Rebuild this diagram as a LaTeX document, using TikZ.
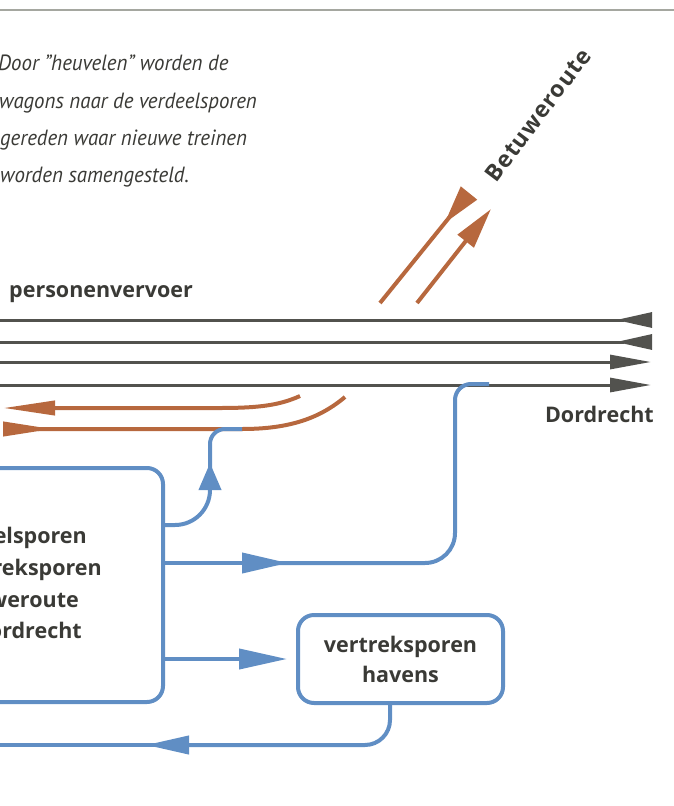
\documentclass[tikz,border=0pt]{standalone}
\usepackage{fontspec}
\setmainfont{PT Sans}
\setsansfont{Open Sans}
\newfontfamily\spacedfont[LetterSpace=4]{Open Sans}
\usetikzlibrary{arrows.meta, positioning, calc}

\definecolor{trackgray}{RGB}{82,82,78}
\definecolor{rulegray}{RGB}{165,167,160}
\definecolor{routeblue}{RGB}{96,142,196}
\definecolor{goodsbrown}{RGB}{183,104,62}
\definecolor{textgray}{RGB}{58,58,54}

\begin{document}
\begin{tikzpicture}[x=1pt, y=-1pt,
    track/.style={line width=3pt, trackgray},
    goods/.style={line width=4pt, goodsbrown},
    flow/.style={line width=4pt, routeblue},
    yard_box/.style={rectangle, draw=routeblue, line width=4pt, rounded corners=16pt, align=center},
    lbl/.style={font=\fontsize{21.5}{30}\selectfont\sffamily\bfseries, text=textgray, inner sep=0pt},
    note/.style={font=\fontsize{22}{37}\selectfont\itshape, xscale=0.95, text=textgray, inner sep=0pt, anchor=base west},
    ]
    \useasboundingbox (0,0) rectangle (674,806);
    \clip (0,0) rectangle (674,806);
    \draw[rulegray, line width=2pt] (0,9.5) -- (674,9.5);

    % Text
    \node[note] (note1) at (-2,70) {Door "heuvelen" worden de};
    \node[note] (note2) at (-1,108) {wagons naar de verdeelsporen};
    \node[note] (note3) at (0,145) {gereden waar nieuwe treinen};
    \node[note] (note4) at (0,182) {worden samengesteld.};
    \node[lbl, anchor=base west] (pers) at (9,297) {personenvervoer};
    \node[lbl, anchor=base east] (dordrecht) at (654,422) {Dordrecht};
    \node[lbl, rotate=53, font=\fontsize{23}{30}\selectfont\spacedfont\bfseries] (betuwe) at (538,115) {Betuweroute};

    % Nodes
    \node[yard_box, minimum width=300pt, minimum height=234pt] (sort) at (13,585) {};
    \node[lbl, anchor=base east] (sort1) at (87,543) {elsporen};
    \node[lbl, anchor=base east] (sort2) at (102,575) {reksporen};
    \node[lbl, anchor=base east] (sort3) at (79,607) {weroute};
    \node[lbl, anchor=base east] (sort4) at (82,638) {ordrecht};
    \node[yard_box, minimum width=205pt, minimum height=88pt, lbl] (havens) at (400.5,659) {vertreksporen\\havens};

    \coordinate (mergeA) at (242,429);
    \coordinate (mergeB) at (489,384);
    \coordinate (westend) at (-5,745);

    % Tracks
    \foreach \y in {320,342}
        \draw[track, -{Triangle[length=36pt,width=15pt,reversed]}] (-5,\y) -- (652,\y);
    \foreach \y in {362,385}
        \draw[track, -{Triangle[length=41pt,width=14pt]}] (-5,\y) -- (651,\y);

    % Goods lines
    \draw[goods, -{Triangle[length=39pt,width=20pt,reversed]}] (380,303) -- (469,193);
    \draw[goods, -{Triangle[length=41pt,width=20pt]}] (417,303) -- (491,209);
    \draw[goods, -{Triangle[length=52pt,width=14pt]}] (300,396) .. controls (280,405) and (260,408) .. (220,408) -- (3,408);
    \draw[goods, {Triangle[length=50pt,width=14pt,reversed]}-] (3,429) -- (mergeA) .. controls (290,429) and (320,418) .. (345,397);

    % Arrows
    \draw[flow, rounded corners=35pt, -{Triangle[length=27pt,width=22pt]}] (sort.east |- 0,525) -| (210,463);
    \draw[flow, rounded corners=15pt] (210,475) |- (mergeA);
    \draw[flow, -{Triangle[length=46pt,width=20pt]}] (sort.east |- 0,563) -- (288,563);
    \draw[flow] (260,563) [rounded corners=30pt] -- (455,563) [rounded corners=16pt] -- (455,384) -- (mergeB);
    \draw[flow, -{Triangle[length=48pt,width=20pt]}] (sort.east |- havens.west) -- ([xshift=-9pt]havens.west);
    \draw[flow, rounded corners=25pt, -{Triangle[length=43pt,width=18pt]}] (havens.south -| 390,0) |- (146,745);
    \draw[flow] (170,745) -- (westend);
\end{tikzpicture}
\end{document}
